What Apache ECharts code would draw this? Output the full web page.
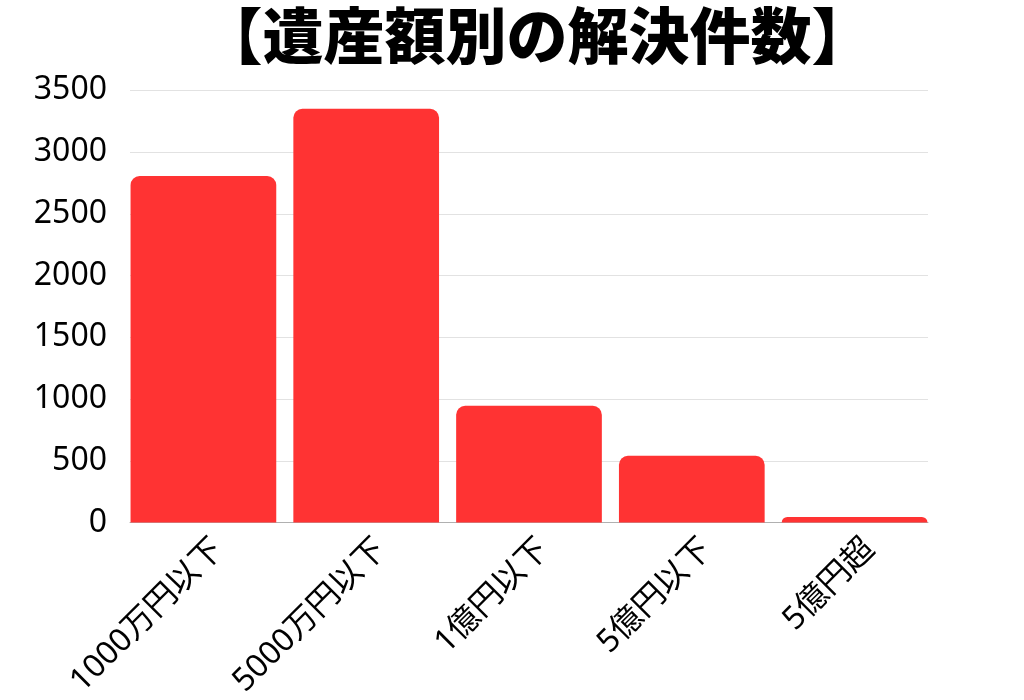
<!DOCTYPE html>
<html>
<head>
<meta charset="utf-8">
<script src="https://cdn.jsdelivr.net/npm/echarts@6/dist/echarts.min.js"></script>
<style>html,body{margin:0;padding:0;background:#fff}#c{width:1024px;height:700px}</style>
</head>
<body>
<div id="c"></div>
<script>
const titleText = '【遺産額別の解決件数】';
const categories = ['1000万円以下', '5000万円以下', '1億円以下', '5億円以下', '5億円超'];
const values = [2805, 3350, 945, 540, 45];
const yMin = 0, yMax = 3500, yInterval = 500;

const font = '"Noto Sans", "Noto Sans CJK JP", sans-serif';
const chart = echarts.init(document.getElementById('c'));
const T = 90.3, B = 700 - 522.5;
chart.setOption({
  animation: false,
  backgroundColor: '#ffffff',
  title: {
    text: titleText, left: 532, top: 0, textAlign: 'center',
    textStyle: { fontFamily: '"Noto Sans CJK JP", sans-serif', fontWeight: 900, fontSize: 61, color: '#000' }
  },
  grid: [
    { left: 130, right: 96, top: T, bottom: B },
    { left: 122, right: 88, top: T, bottom: B },
    { left: 137, right: 73, top: T, bottom: B }
  ],
  xAxis: [
    { gridIndex: 0, type: 'category', data: categories,
      axisLine: { lineStyle: { color: '#b0b0b0', width: 1 } }, axisTick: { show: false }, axisLabel: { show: false } },
    { gridIndex: 1, type: 'category', data: categories,
      axisLine: { show: false }, axisTick: { show: false }, axisLabel: { show: false } },
    { gridIndex: 2, type: 'category', data: categories,
      axisLine: { show: false }, axisTick: { show: false },
      axisLabel: { rotate: 45, margin: 40, fontSize: 32, color: '#000', fontFamily: font, interval: 0 } }
  ],
  yAxis: [
    { gridIndex: 0, type: 'value', min: yMin, max: yMax, interval: yInterval,
      axisLine: { show: false }, axisTick: { show: false },
      splitLine: { lineStyle: { color: '#e2e2e2', width: 1 } },
      axisLabel: { fontSize: 32, color: '#000', fontFamily: font, margin: 23, formatter: v => String(v) } },
    { gridIndex: 1, type: 'value', min: yMin, max: yMax, interval: yInterval, show: false },
    { gridIndex: 2, type: 'value', min: yMin, max: yMax, interval: yInterval, show: false }
  ],
  series: [{
    type: 'bar', xAxisIndex: 1, yAxisIndex: 1, data: values,
    barWidth: 145.7,
    itemStyle: { color: '#ff3333', borderRadius: [9, 9, 0, 0] }
  }]
});
</script>
</body>
</html>
